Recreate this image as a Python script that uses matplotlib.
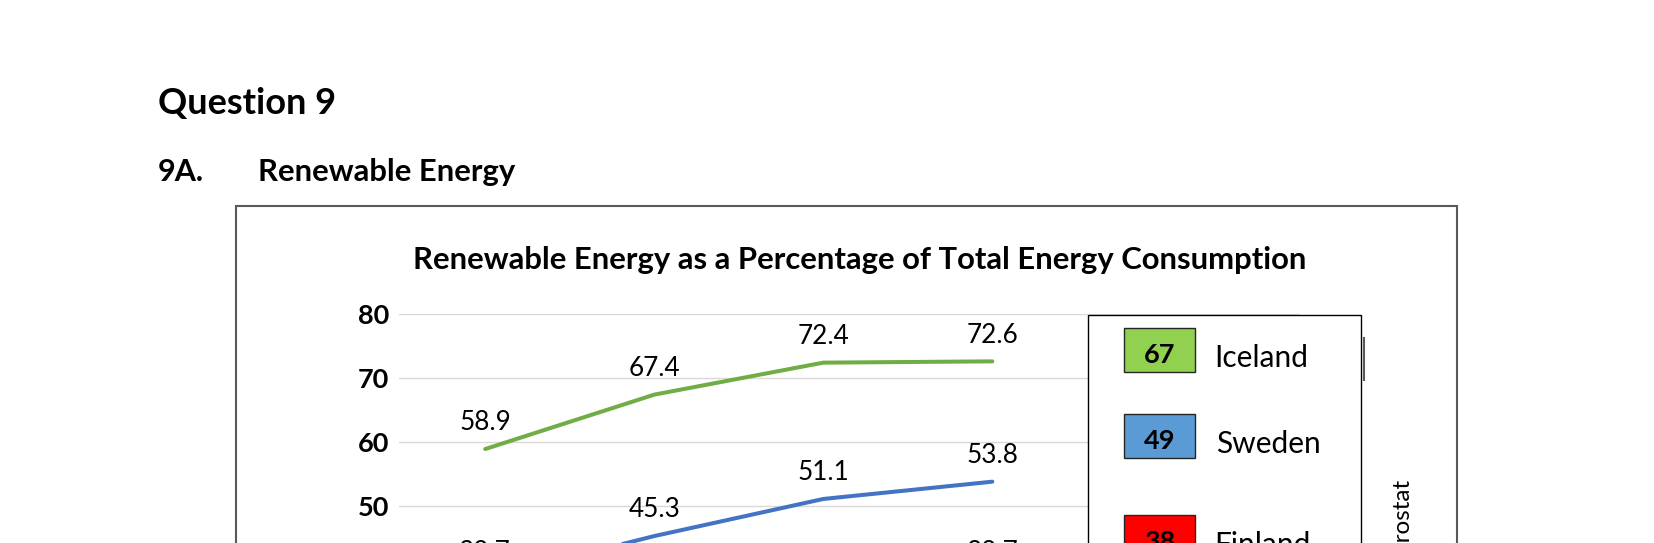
import matplotlib
matplotlib.use('Agg')
import matplotlib.pyplot as plt
from matplotlib.patches import Rectangle
from matplotlib.lines import Line2D

plt.rcParams['font.family'] = ['Lato', 'DejaVu Sans']

years = ['2004', '2008', '2012', '2016']
iceland = [58.9, 67.4, 72.4, 72.6]
sweden = [38.7, 45.3, 51.1, 53.8]
finland = [29.2, 31.3, 34.4, 38.7]
legend_names = ['Iceland', 'Sweden', 'Finland']
legend_values = ['67', '49', '38']
yticks = [0, 10, 20, 30, 40, 50, 60, 70, 80]

W, H = 1654, 543
def fx(x):
    return x / W
def fy(y):
    return 1 - y / H

fig = plt.figure(figsize=(W / 100, H / 100), dpi=100)

# header text
fig.text(fx(158), fy(114), 'Question 9', fontsize=26, fontweight='bold', va='baseline')
fig.text(fx(158), fy(181), '9A.', fontsize=22, fontweight='bold', va='baseline')
fig.text(fx(258), fy(181), 'Renewable Energy', fontsize=22.3, fontweight='bold', va='baseline')

# chart frame (runs off the bottom of the page)
fig.add_artist(Rectangle((fx(236), -0.5), fx(1457) - fx(236), fy(206) + 0.5,
                         transform=fig.transFigure, facecolor='none',
                         edgecolor='#595959', lw=1.5))
fig.text(fx(860), fy(269), 'Renewable Energy as a Percentage of Total Energy Consumption',
         fontsize=22.3, fontweight='bold', ha='center', va='baseline')

# plot area: 80 at y=314px, 6.4 px per unit
y0 = 314 + 80 * 6.4
ax = fig.add_axes([fx(399), fy(y0), fx(1300) - fx(399), fy(314) - fy(y0)])
ax.set_ylim(0, 80)
ax.set_xlim(-0.51, 4.82)
for s in ax.spines.values():
    s.set_visible(False)
ax.set_yticks(yticks)
ax.set_yticklabels([str(v) for v in yticks], fontsize=19.5, fontweight='bold')
ax.tick_params(length=0, pad=7)
ax.set_xticks(range(len(years)))
ax.set_xticklabels(years)
ax.grid(axis='y', color='#D9D9D9', lw=1)
ax.set_axisbelow(True)

x = list(range(len(years)))
for vals, col in [(iceland, '#70AD47'), (sweden, '#4472C4'), (finland, '#E00000')]:
    ax.plot(x, vals, color=col, lw=2.9, solid_capstyle='round')
    for xi, v in zip(x, vals):
        ax.annotate(f'{v:.1f}', (xi, v), xytext=(0, 13.5), textcoords='offset points',
                    ha='center', va='baseline', fontsize=18.8)

# legend box
fig.add_artist(Rectangle((fx(1088), -0.5), fx(1361) - fx(1088), fy(315) + 0.5,
                         transform=fig.transFigure, facecolor='white',
                         edgecolor='black', lw=1, zorder=3))
fig.add_artist(Line2D([fx(1364), fx(1364)], [fy(338), fy(380)], transform=fig.transFigure,
                      color='#595959', lw=1.5, zorder=3))
sq_cols = ['#92D050', '#5B9BD5', '#FF0000']
sq_tops = [328, 414, 515]
name_x = [1214, 1216, 1214]
for name, val, col, top, nx in zip(legend_names, legend_values, sq_cols, sq_tops, name_x):
    fig.add_artist(Rectangle((fx(1124), fy(top + 44)), fx(1195) - fx(1124), fy(top) - fy(top + 44),
                             transform=fig.transFigure, facecolor=col,
                             edgecolor='#262626', lw=1, zorder=4))
    fig.text(fx(1159.5), fy(top + 35), val, fontsize=19.5, fontweight='bold',
             ha='center', va='baseline', zorder=5)
    fig.text(fx(nx), fy(top + 39), name, fontsize=21.5, va='baseline', zorder=5)

# source note, rotated
fig.text(fx(1403), fy(480), 'Source: Eurostat', fontsize=17.5, rotation=90,
         ha='center', va='top')

fig.savefig('out.png', dpi=100, facecolor='white')
